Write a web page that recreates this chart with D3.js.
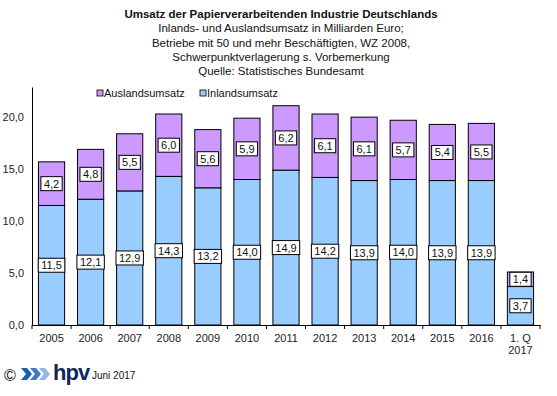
<!DOCTYPE html>
<html>
<head>
<meta charset="utf-8">
<script src="https://cdnjs.cloudflare.com/ajax/libs/d3/7.8.5/d3.min.js"></script>
<style>
  body { margin: 0; background: #fff; }
  text { font-family: "Liberation Sans", Arial, sans-serif; }
</style>
</head>
<body>
<script>
const w = 557;
const h = 396;

// data
const years = ["2005", "2006", "2007", "2008", "2009", "2010", "2011", "2012", "2013", "2014", "2015", "2016", "1. Q|2017"];
const inland = [11.5, 12.1, 12.9, 14.3, 13.2, 14.0, 14.9, 14.2, 13.9, 14.0, 13.9, 13.9, 3.7];
const ausland = [4.2, 4.8, 5.5, 6.0, 5.6, 5.9, 6.2, 6.1, 6.1, 5.7, 5.4, 5.5, 1.4];
const yTicks = [0, 5, 10, 15, 20];
const titleLines = [
  "Umsatz der Papierverarbeitenden Industrie Deutschlands",
  "Inlands- und Auslandsumsatz in Milliarden Euro;",
  "Betriebe mit 50 und mehr Beschäftigten, WZ 2008,",
  "Schwerpunktverlagerung  s. Vorbemerkung",
  "Quelle: Statistisches Bundesamt"
];

const colInland = "#99ccff";
const colAusland = "#cc99ff";
const fmt = (v) => d3.format(".1f")(v).replace(".", ",");

const svg = d3.select("body").append("svg")
  .attr("width", w)
  .attr("height", h);

// title
svg.append("g").selectAll("text")
  .data(titleLines)
  .enter().append("text")
  .attr("x", 281)
  .attr("y", (d, i) => 18 + i * 14.3)
  .attr("text-anchor", "middle")
  .attr("font-size", "11.5px")
  .attr("font-weight", (d, i) => i == 0 ? "bold" : "normal")
  .attr("fill", "#111")
  .text(d => d);

const xScale = d3.scaleBand()
  .domain(years)
  .range([32, 540])
  .paddingInner(0.33)
  .paddingOuter(0.165);

const yScale = d3.scaleLinear()
  .domain([0, 22.9])
  .range([325, 87]);

const rows = years.map((y, i) => ({ year: y, inl: inland[i], aus: ausland[i] }));

// bars
const bars = svg.append("g").selectAll("g")
  .data(rows)
  .enter().append("g");

bars.append("rect")
  .attr("x", d => xScale(d.year))
  .attr("width", xScale.bandwidth())
  .attr("y", d => yScale(d.inl))
  .attr("height", d => yScale(0) - yScale(d.inl))
  .attr("fill", colInland)
  .attr("stroke", "#000")
  .attr("stroke-width", 1);

bars.append("rect")
  .attr("x", d => xScale(d.year))
  .attr("width", xScale.bandwidth())
  .attr("y", d => yScale(d.inl + d.aus))
  .attr("height", d => yScale(d.inl) - yScale(d.inl + d.aus))
  .attr("fill", colAusland)
  .attr("stroke", "#000")
  .attr("stroke-width", 1);

// value labels, box sized to the text
function addLabel(sel, val, mid) {
  sel.each(function(d) {
    const g = d3.select(this).append("g");
    const cx = xScale(d.year) + xScale.bandwidth() / 2;
    const cy = yScale(mid(d));
    const t = g.append("text")
      .attr("x", cx)
      .attr("y", cy + 4)
      .attr("text-anchor", "middle")
      .attr("font-size", "11px")
      .attr("fill", "#111")
      .text(fmt(val(d)));
    const tw = t.node().getComputedTextLength() + 6;
    g.insert("rect", "text")
      .attr("x", cx - tw / 2)
      .attr("y", cy - 7)
      .attr("width", tw)
      .attr("height", 14)
      .attr("fill", "#fff")
      .attr("stroke", "#000")
      .attr("stroke-width", 1);
  });
}
addLabel(bars, d => d.inl, d => d.inl / 2);
addLabel(bars, d => d.aus, d => d.inl + d.aus / 2);

// y axis
const yAxis = d3.axisLeft(yScale)
  .tickValues(yTicks)
  .tickSize(0)
  .tickPadding(8)
  .tickFormat(fmt);

const yG = svg.append("g")
  .attr("transform", "translate(32,0)")
  .call(yAxis);
yG.select(".domain").attr("stroke", "#000");
yG.selectAll("text").attr("font-size", "11px").attr("fill", "#222")
  .style("font-family", "'Liberation Sans', Arial, sans-serif");

// x axis
const xAxis = d3.axisBottom(xScale).tickSize(0).tickPadding(10);
const xG = svg.append("g")
  .attr("transform", "translate(0,325)")
  .call(xAxis);
xG.select(".domain").attr("stroke", "#000");
xG.selectAll("text").remove();
xG.selectAll(".tick").each(function(d) {
  const lines = d.split("|");
  const t = d3.select(this).append("text")
    .attr("fill", "#222")
    .attr("font-size", "11px")
    .attr("text-anchor", "middle")
    .style("font-family", "'Liberation Sans', Arial, sans-serif");
  lines.forEach((l, i) => {
    t.append("tspan").attr("x", 0).attr("y", 17 + i * 12).text(l);
  });
});
// ticks between categories
const step = xScale.step();
xG.selectAll(".sep")
  .data(d3.range(years.length + 1))
  .enter().append("line")
  .attr("x1", i => 32 + i * step)
  .attr("x2", i => 32 + i * step)
  .attr("y1", 0)
  .attr("y2", 4)
  .attr("stroke", "#000");

// legend
const legend = [["Auslandsumsatz", colAusland, 97], ["Inlandsumsatz", colInland, 200]];
const lg = svg.append("g").selectAll("g")
  .data(legend)
  .enter().append("g");
lg.append("rect")
  .attr("x", d => d[2])
  .attr("y", 90)
  .attr("width", 6)
  .attr("height", 6)
  .attr("fill", d => d[1])
  .attr("stroke", "#000")
  .attr("stroke-width", 0.8);
lg.append("text")
  .attr("x", d => d[2] + 7)
  .attr("y", 97)
  .attr("font-size", "11px")
  .attr("fill", "#111")
  .text(d => d[0]);

// footer
const foot = svg.append("g");
foot.append("text")
  .attr("x", 4).attr("y", 381)
  .attr("font-size", "16px")
  .attr("fill", "#111")
  .text("©");
[0, 1, 2].forEach(i => {
  foot.append("path")
    .attr("d", `M${21 + i * 9},368 l6,0 l5,6 l-5,6 l-6,0 l5,-6 z`)
    .attr("fill", ["#1f5fa8", "#3d7cc4", "#8fb7e3"][i]);
});
foot.append("text")
  .attr("x", 53).attr("y", 380)
  .attr("font-size", "22px")
  .attr("font-weight", "bold")
  .attr("fill", "#0d2a5c")
  .attr("letter-spacing", "-1px")
  .text("hpv");
foot.append("text")
  .attr("x", 92).attr("y", 379)
  .attr("font-size", "10px")
  .attr("fill", "#111")
  .text("Juni 2017");
</script>
</body>
</html>
